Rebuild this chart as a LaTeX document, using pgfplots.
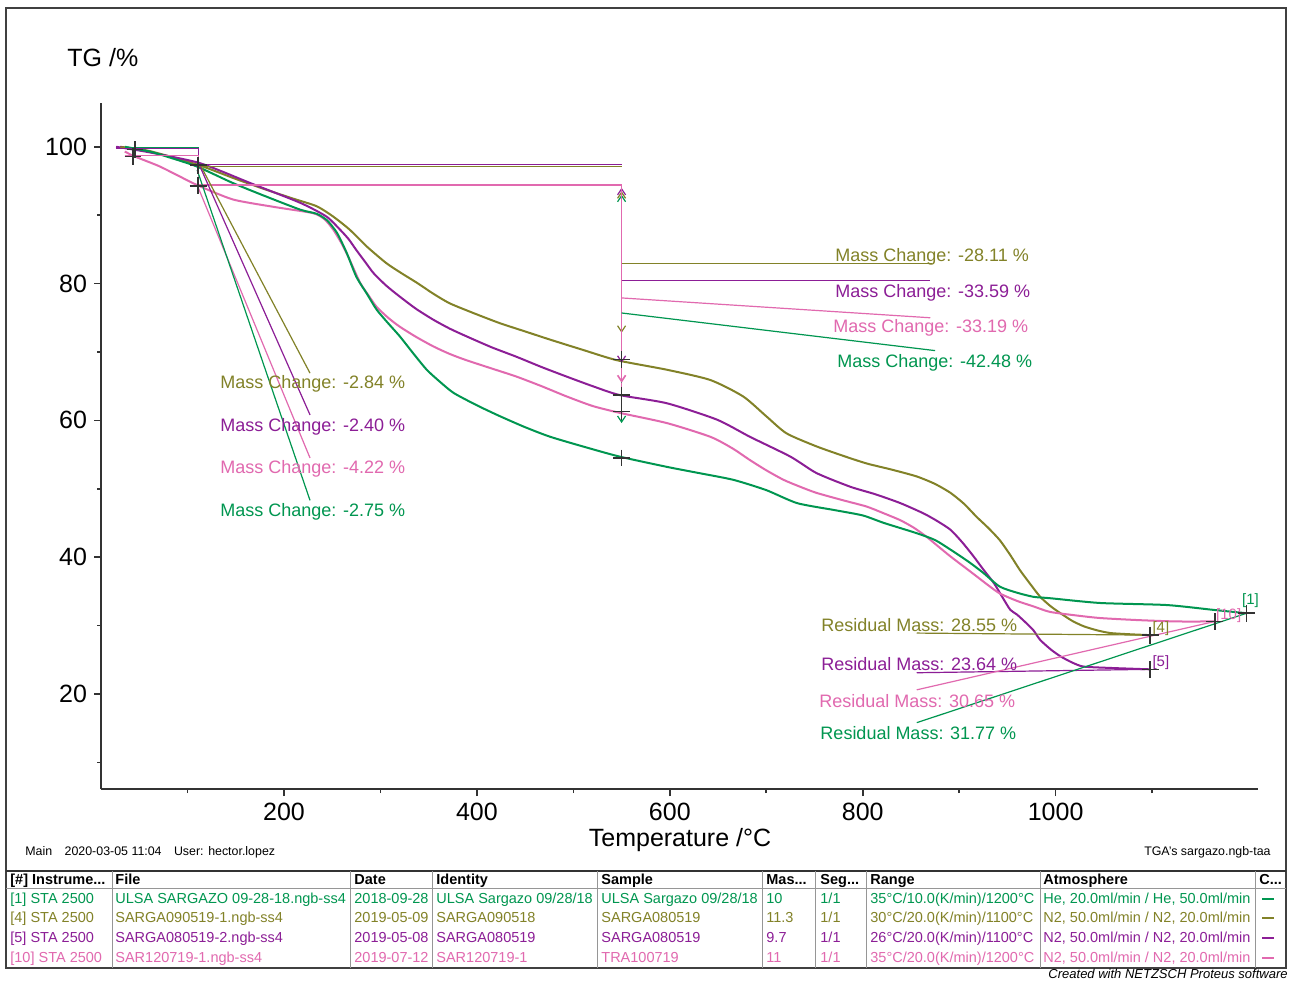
\documentclass[border=0pt]{standalone}
\usepackage{fontspec}
\setmainfont{Liberation Sans}
\usepackage{pgfplots}
\pgfplotsset{compat=1.18}
\usetikzlibrary{arrows.meta}
\definecolor{cgreen}{RGB}{0,150,80}
\definecolor{colive}{RGB}{130,130,40}
\definecolor{cpurple}{RGB}{140,30,150}
\definecolor{cpink}{RGB}{225,105,175}
\definecolor{cgrid}{RGB}{150,150,150}
\newcommand{\af}{\fontsize{9}{10}\selectfont}
\newcommand{\tf}{\fontsize{7.25}{8}\selectfont}
\newcommand{\trow}[9]{%
  \begin{scope}[every node/.style={anchor=base west, inner sep=0, font=\tf, text=#2}]
  \node at (10,#1) {#3};
  \node at (115,#1) {#4};
  \node at (354,#1) {#5};
  \node at (436,#1) {#6};
  \node at (601,#1) {#7};
  \node at (766,#1) {#8};
  \node at (820,#1) {1/1};
  \node at (870,#1) {#9};
  \end{scope}}
\newcommand{\hd}[2]{\node[anchor=base west, inner sep=0, font=\tf\bfseries] at (#1,884) {#2};}
\begin{document}
\begin{tikzpicture}
\begin{scope}[x=0.5pt,y=-0.5pt]
\useasboundingbox (0,0) rectangle (1290,981);
\fill[white] (0,0) rectangle (1290,981);
\draw[line width=0.7pt, black!75] (6,8) rectangle (1286,968);
% titles
\node[anchor=base west, inner sep=0, font=\fontsize{12.5}{15}\selectfont] at (67,66) {TG /\%};
\node[anchor=base, inner sep=0, font=\fontsize{12.5}{15}\selectfont] at (680,846) {Temperature /°C};
\node[anchor=base west, inner sep=0, font=\fontsize{6.2}{7}\selectfont] at (25,855) {Main\quad 2020-03-05 11:04\quad User: hector.lopez};
\node[anchor=base east, inner sep=0, font=\fontsize{6.2}{7}\selectfont] at (1271,855) {TGA's sargazo.ngb-taa};
\node[anchor=base east, inner sep=0, font=\fontsize{6.5}{7}\selectfont\itshape] at (1288,978) {Created with NETZSCH Proteus software};
% table
\draw[line width=0.9pt, black!80] (6,871) -- (1286,871);
\draw[line width=0.5pt, cgrid] (6,888) -- (1286,888);
\foreach \xx in {112,350,432,597,762,815,866,1040,1255} {\draw[line width=0.4pt, cgrid] (\xx,871) -- (\xx,968);}
\hd{10}{[\#] Instrume...}
\hd{115}{File}
\hd{354}{Date}
\hd{436}{Identity}
\hd{601}{Sample}
\hd{766}{Mas...}
\hd{820}{Seg...}
\hd{870}{Range}
\hd{1043}{Atmosphere}
\hd{1259}{C...}
\trow{903}{cgreen}{[1] STA 2500}{ULSA SARGAZO 09-28-18.ngb-ss4}{2018-09-28}{ULSA Sargazo 09/28/18}{ULSA Sargazo 09/28/18}{10}{35°C/10.0(K/min)/1200°C}
\trow{922}{colive}{[4] STA 2500}{SARGA090519-1.ngb-ss4}{2019-05-09}{SARGA090518}{SARGA080519}{11.3}{30°C/20.0(K/min)/1100°C}
\trow{942}{cpurple}{[5] STA 2500}{SARGA080519-2.ngb-ss4}{2019-05-08}{SARGA080519}{SARGA080519}{9.7}{26°C/20.0(K/min)/1100°C}
\trow{962}{cpink}{[10] STA 2500}{SAR120719-1.ngb-ss4}{2019-07-12}{SAR120719-1}{TRA100719}{11}{35°C/20.0(K/min)/1200°C}
\node[anchor=base west, inner sep=0, font=\tf, text=cgreen] at (1043,903) {He, 20.0ml/min / He, 50.0ml/min};
\node[anchor=base west, inner sep=0, font=\tf, text=colive] at (1043,922) {N2, 50.0ml/min / N2, 20.0ml/min};
\node[anchor=base west, inner sep=0, font=\tf, text=cpurple] at (1043,942) {N2, 50.0ml/min / N2, 20.0ml/min};
\node[anchor=base west, inner sep=0, font=\tf, text=cpink] at (1043,962) {N2, 50.0ml/min / N2, 20.0ml/min};
\draw[cgreen, line width=0.8pt] (1262,899) -- (1274,899);
\draw[colive, line width=0.8pt] (1262,918) -- (1274,918);
\draw[cpurple, line width=0.8pt] (1262,938) -- (1274,938);
\draw[cpink, line width=0.8pt] (1262,958) -- (1274,958);
\end{scope}
\begin{axis}[
 at={(50.5pt,-394.5pt)}, anchor=south west,
 scale only axis, width=578.5pt, height=343pt,
 xmin=10.3, xmax=1209.8, ymin=6.1, ymax=106.4,
 axis lines=left,
 axis line style={-, line width=0.9pt, black!80},
 tick align=outside,
 xtick={200,400,600,800,1000},
 ytick={20,40,60,80,100},
 minor xtick={100,300,500,700,900,1100},
 minor ytick={10,30,50,70,90},
 major tick length=3.5pt, minor tick length=2pt,
 tick style={line width=0.8pt, black!80},
 ticklabel style={font=\fontsize{12.5}{15}\selectfont},
 /pgf/number format/assume math mode=true,
 /pgf/number format/1000 sep={},
 clip=false,
]
% ---- data curves
\addplot[colive, line width=1pt, smooth, tension=0.4] coordinates {(30,100) (60,99.4) (110,97.4) (150,95.3) (182,93.7) (210,92.4) (234,91.3) (251,89.8) (268,87.9) (286,85.4) (306,83.0) (322,81.5) (338,80.1) (355,78.5) (372,77.1) (398,75.6) (424,74.2) (450,73.0) (476,71.8) (510,70.3) (545,68.8) (597,67.4) (642,65.9) (676,63.5) (700,60.6) (721,58.1) (752,56.2) (780,54.8) (804,53.7) (830,52.8) (856,51.8) (875,50.7) (891,49.4) (905,47.8) (918,45.9) (930,44.3) (942,42.5) (953,40.3) (963,38.1) (973,36.2) (984,34.2) (995,32.8) (1005,31.8) (1017,30.7) (1029,29.9) (1043,29.3) (1057,28.9) (1081,28.7) (1098,28.6)};
\addplot[cpurple, line width=1pt, smooth, tension=0.4] coordinates {(26,100) (60,99.2) (113,97.6) (165,94.7) (217,91.8) (244,89.8) (258,87.9) (267,86.5) (275,84.9) (284,83.2) (293,81.5) (306,79.7) (320,78.1) (337,76.3) (355,74.7) (372,73.4) (389,72.3) (415,70.7) (441,69.3) (467,67.8) (493,66.4) (520,65.0) (548,63.7) (597,62.5) (649,60.1) (683,57.6) (725,54.7) (752,52.3) (787,50.3) (813,49.2) (839,47.9) (863,46.4) (877,45.3) (891,44.0) (903,42.2) (915,40.1) (925,38.2) (936,36.2) (945,34.1) (953,32.3) (960,31.6) (970,30.3) (977,29.3) (984,27.9) (995,26.5) (1005,25.5) (1017,24.6) (1029,24.0) (1057,23.8) (1098,23.6)};
\addplot[cpink, line width=1pt, smooth, tension=0.4] coordinates {(35,99.3) (45,98.6) (70,97.2) (90,95.8) (110,94.4) (147,92.3) (190,91.2) (230,90.3) (242,89.4) (251,87.9) (260,85.8) (268,83.5) (279,80.1) (288,78.2) (296,76.6) (308,75.0) (320,73.7) (337,72.2) (355,70.8) (372,69.7) (389,68.8) (415,67.6) (441,66.4) (467,65.0) (493,63.5) (520,62.1) (548,61.1) (597,59.6) (642,57.6) (665,55.9) (683,54.2) (700,52.7) (718,51.3) (735,50.3) (752,49.4) (780,48.3) (804,47.4) (822,46.4) (839,45.4) (853,44.3) (866,43.0) (878,41.6) (891,40.1) (905,38.6) (918,37.2) (930,35.9) (942,34.7) (960,33.6) (977,32.8) (994,32.0) (1020,31.5) (1046,31.1) (1085,30.8) (1125,30.6) (1165,30.6)};
\addplot[cgreen, line width=1pt, smooth, tension=0.4] coordinates {(35,100) (61,99.3) (80,98.5) (110,97.1) (147,94.7) (182,92.7) (217,90.8) (234,90.2) (245,89.2) (255,87.4) (265,84.5) (275,81.0) (286,78.5) (296,76.2) (308,74.2) (320,72.3) (334,69.8) (348,67.4) (362,65.6) (376,64.0) (400,62.2) (424,60.6) (450,59.0) (476,57.6) (512,56.1) (548,54.7) (597,53.2) (630,52.3) (666,51.3) (700,49.8) (732,47.9) (770,46.9) (800,46.1) (822,45.0) (856,43.5) (875,42.5) (891,41.1) (910,39.3) (925,37.7) (942,35.7) (960,34.8) (977,34.2) (994,34.0) (1046,33.3) (1115,33.0) (1163,32.3) (1198,31.8)};
% ---- step 1 boxes
\addplot[colive, line width=0.6pt] coordinates {(30,99.9) (111,99.9) (111,97.1) (550,97.1)};
\addplot[cgreen, line width=0.6pt] coordinates {(35,99.9) (111,99.9) (111,97.1)};
\addplot[cpurple, line width=0.6pt] coordinates {(26,99.8) (111,99.8) (111,97.4) (550,97.4)};
\addplot[cpink, line width=0.6pt] coordinates {(35,98.7) (111,98.7) (111,94.4) (550,94.4)};
% ---- step 1 leaders
\addplot[colive, line width=0.6pt] coordinates {(113,97.4) (227,66.9)};
\addplot[cpurple, line width=0.6pt] coordinates {(113,97.1) (227,60.8)};
\addplot[cpink, line width=0.6pt] coordinates {(110,94.4) (227,54.5)};
\addplot[cgreen, line width=0.6pt] coordinates {(110,96.6) (227,48.3)};
% ---- step 2 arrows
\addplot[cgreen, line width=0.6pt, {Straight Barb[length=3pt,width=4pt]}-{Straight Barb[length=3pt,width=4pt]}] coordinates {(550,93.0) (550,59.6)};
\addplot[colive, line width=0.6pt, {Straight Barb[length=3pt,width=4pt]}-{Straight Barb[length=3pt,width=4pt]}] coordinates {(550,93.5) (550,72.8)};
\addplot[cpurple, line width=0.6pt, {Straight Barb[length=3pt,width=4pt]}-{Straight Barb[length=3pt,width=4pt]}] coordinates {(550,94.0) (550,68.4)};
\addplot[cpink, line width=0.8pt, -{Straight Barb[length=3pt,width=4pt]}] coordinates {(550,94.3) (550,65.5)};
\addplot[cpink, line width=0.8pt] coordinates {(550,65.5) (550,64.0)};
% ---- step 2 leaders
\addplot[colive, line width=0.6pt] coordinates {(550,82.9) (872,82.9)};
\addplot[cpurple, line width=0.6pt] coordinates {(550,80.4) (870,80.4)};
\addplot[cpink, line width=0.6pt] coordinates {(550,77.9) (870,75.0)};
\addplot[cgreen, line width=0.6pt] coordinates {(550,75.7) (875,70.2)};
% ---- residual leaders
\addplot[colive, line width=0.6pt] coordinates {(856,28.9) (1098,28.6)};
\addplot[cpurple, line width=0.6pt] coordinates {(856,23.1) (1098,23.6)};
\addplot[cpink, line width=0.6pt] coordinates {(856,20.6) (1165,30.6)};
\addplot[cgreen, line width=0.6pt] coordinates {(856,15.8) (1198,31.8)};
% ---- markers
\addplot[only marks, mark=+, mark size=4.2pt, black!80, line width=0.8pt] coordinates {(45.5,99.6) (43.5,98.6) (111,97.3) (111,94.3) (550,68.9) (550,63.7) (550,61.3) (550,54.5) (1098,28.6) (1098,23.6) (1165,30.6) (1198,31.8)};
% ---- labels
\node[anchor=base west, inner sep=0, font=\af, text=colive] at (axis cs:133.6,64.6) {Mass Change: -2.84 \%};
\node[anchor=base west, inner sep=0, font=\af, text=cpurple] at (axis cs:133.6,58.3) {Mass Change: -2.40 \%};
\node[anchor=base west, inner sep=0, font=\af, text=cpink] at (axis cs:133.6,52.2) {Mass Change: -4.22 \%};
\node[anchor=base west, inner sep=0, font=\af, text=cgreen] at (axis cs:133.6,46.0) {Mass Change: -2.75 \%};
\node[anchor=base west, inner sep=0, font=\af, text=colive] at (axis cs:771.3,83.2) {Mass Change: -28.11 \%};
\node[anchor=base west, inner sep=0, font=\af, text=cpurple] at (axis cs:771.3,77.9) {Mass Change: -33.59 \%};
\node[anchor=base west, inner sep=0, font=\af, text=cpink] at (axis cs:769.2,72.9) {Mass Change: -33.19 \%};
\node[anchor=base west, inner sep=0, font=\af, text=cgreen] at (axis cs:773.4,67.8) {Mass Change: -42.48 \%};
\node[anchor=base west, inner sep=0, font=\af, text=colive] at (axis cs:756.8,29.2) {Residual Mass: 28.55 \%};
\node[anchor=base west, inner sep=0, font=\af, text=cpurple] at (axis cs:756.8,23.4) {Residual Mass: 23.64 \%};
\node[anchor=base west, inner sep=0, font=\af, text=cpink] at (axis cs:754.7,18.0) {Residual Mass: 30.65 \%};
\node[anchor=base west, inner sep=0, font=\af, text=cgreen] at (axis cs:755.8,13.3) {Residual Mass: 31.77 \%};
\node[anchor=base west, inner sep=0, font=\fontsize{7.5}{8}\selectfont, text=cgreen] at (axis cs:1193,33.1) {[1]};
\node[anchor=base west, inner sep=0, font=\fontsize{7.5}{8}\selectfont, text=cpink] at (axis cs:1166,30.9) {[10]};
\node[anchor=base west, inner sep=0, font=\fontsize{7.5}{8}\selectfont, text=colive] at (axis cs:1100,29.0) {[4]};
\node[anchor=base west, inner sep=0, font=\fontsize{7.5}{8}\selectfont, text=cpurple] at (axis cs:1100,24.0) {[5]};
\end{axis}
\end{tikzpicture}
\end{document}
